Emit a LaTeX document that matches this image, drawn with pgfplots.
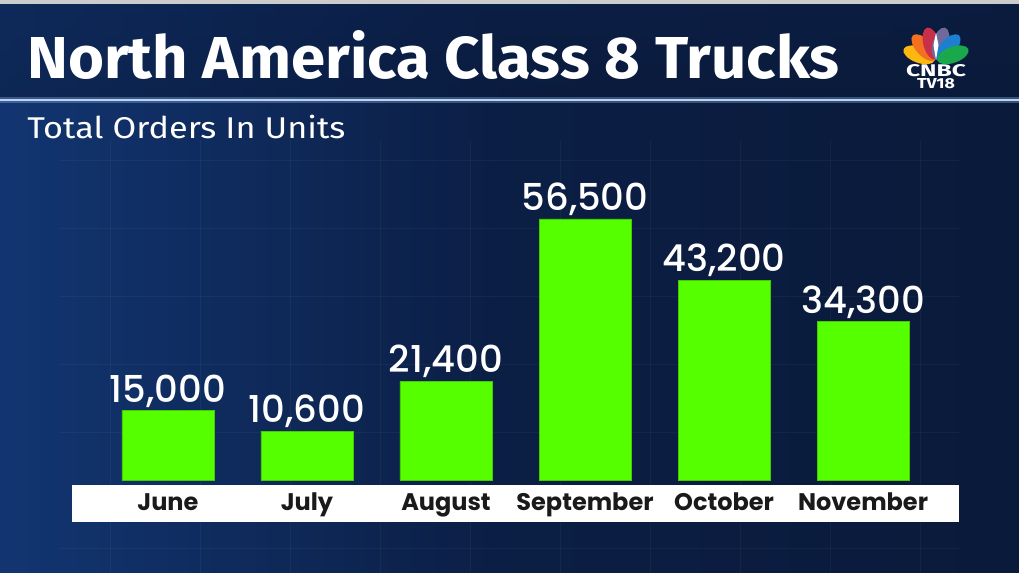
\documentclass[border=0pt]{standalone}
\usepackage{fontspec}
\usepackage{pgfplots}
\pgfplotsset{compat=1.18}
\usetikzlibrary{calc}
\setmainfont{Poppins}
\newfontfamily\titlefont{Fira Sans}
\newfontfamily\medfont{Poppins Medium}
\definecolor{navy}{HTML}{0B1E44}
\definecolor{navylight}{HTML}{123571}
\definecolor{navydark}{HTML}{0A1A3A}
\definecolor{bargreen}{HTML}{55FF00}
\definecolor{labeldark}{HTML}{1A1A1A}
\definecolor{lineblue}{HTML}{8FB8E8}

\begin{document}
\begin{tikzpicture}
% background, drawn in reference pixels (1px = 0.5pt)
\begin{scope}[x=0.5pt,y=-0.5pt]
  \useasboundingbox (0,0) rectangle (1019,573);
  \shade[left color=navylight, right color=navydark, middle color=navy] (0,0) rectangle (1019,573);
  \shade[top color=navy, bottom color=navydark, opacity=0.5] (0,0) rectangle (1019,100);
  \fill[gray!40] (0,0) rectangle (1019,4);
  % faint grid
  \foreach \gx in {110,200,290,380,470,560,650,740,830,920}
    \draw[white, opacity=0.04] (\gx,140) -- (\gx,573);
  \foreach \gy in {160,228,296,364,432,548}
    \draw[white, opacity=0.04] (60,\gy) -- (960,\gy);
  % separator line
  \draw[lineblue, line width=3pt, opacity=0.35] (0,100) -- (1019,100);
  \draw[lineblue!60!white, line width=1.2pt] (0,100) -- (1019,100);
  % titles
  \node[anchor=south west, inner sep=0pt, text=white] at (27,80)
    {\resizebox{406pt}{24pt}{\titlefont\bfseries North America Class 8 Trucks}};
  \node[anchor=south west, inner sep=0pt, text=white] at (27,139)
    {\resizebox{159pt}{11.7pt}{\titlefont Total Orders In Units}};
  \node[anchor=south, text=white, inner sep=0pt] at (936,77)
    {\resizebox{30pt}{6pt}{\titlefont\bfseries CNBC}};
  \node[anchor=south, text=white, inner sep=0pt] at (936,89)
    {\resizebox{19pt}{5pt}{\titlefont\bfseries TV18}};
  % white band under the bars
  \fill[white] (72,485) rectangle (959,522);
\end{scope}
% peacock logo (y up, 1 unit = 0.5pt)
\begin{scope}[shift={(468pt,-30.5pt)}, x=0.5pt, y=0.5pt]
  \foreach \ang/\col in {160/FCB711, 132/F37021, 105/C8304A, 75/6E6A9E, 48/1C7FCF, 20/19A84B} {
    \definecolor{fc}{HTML}{\col}
    \fill[fc, rotate=\ang] (18,0) ellipse (16.5 and 8);
  }
  \fill[white] (0,1) -- (-2.5,16) -- (0,28) -- (2.5,16) -- cycle;
\end{scope}

\begin{axis}[
  at={(36pt,-240pt)}, anchor=south west,
  scale only axis,
  width=443.5pt, height=161.7pt,
  xmin=-0.69, xmax=5.69,
  ymin=0, ymax=70000,
  axis line style={draw=none},
  ytick=\empty,
  xtick=data,
  xticklabels={June,July,August,September,October,November},
  major tick length=0pt,
  xticklabel style={font=\bfseries\fontsize{12}{12}\selectfont, text=labeldark, anchor=base, yshift=-15pt},
  ybar, bar width=46pt,
  clip=false,
  nodes near coords={\pgfmathprintnumber[fixed, 1000 sep={,}, assume math mode=true]{\pgfplotspointmeta}},
  every node near coord/.append style={text=white, font=\medfont\fontsize{18.5}{18.5}\selectfont, anchor=south, inner sep=1.5pt},
]
\addplot[fill=bargreen, draw=bargreen!80!black, line width=0.3pt] coordinates {
  (0, 15000)
  (1, 10600)
  (2, 21400)
  (3, 56500)
  (4, 43200)
  (5, 34300)
};
\end{axis}
\end{tikzpicture}
\end{document}
